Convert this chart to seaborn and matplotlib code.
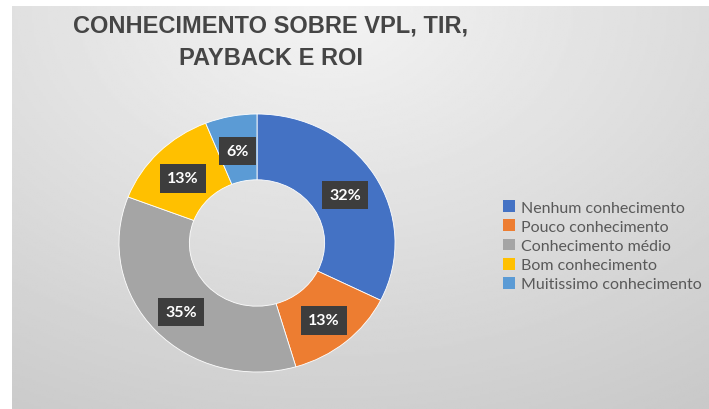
import numpy as np
import matplotlib
matplotlib.use('Agg')
import matplotlib.pyplot as plt
import matplotlib.patches as mpatches
import seaborn as sns


categories = ['Nenhum conhecimento', 'Pouco conhecimento', 'Conhecimento médio',
              'Bom conhecimento', 'Muitissimo conhecimento']
percentages = [32, 13, 35, 13, 6]
pct_labels = ['32%', '13%', '35%', '13%', '6%']
title = 'CONHECIMENTO SOBRE VPL, TIR,\nPAYBACK E ROI'

sns.set_theme(style='white')
plt.rcParams['font.family'] = ['Lato', 'DejaVu Sans']

colors = sns.color_palette(['#4472C4', '#ED7D31', '#A5A5A5', '#FFC000', '#5B9BD5'])

W, H = 709, 410
fig = plt.figure(figsize=(W / 100, H / 100), dpi=100)
fig.patch.set_facecolor('white')

# gradient background (lighter at top centre, darker towards bottom corners)
bg = fig.add_axes([12 / W, 0, 1 - 12 / W, (H - 7) / H])
yy, xx = np.mgrid[0:1:200j, 0:1:300j]
dist = np.sqrt(((xx - 0.45) * 1.2) ** 2 + (yy * 1.0) ** 2)
shade = 0.955 - 0.17 * np.clip(dist, 0, 1.2) / 1.2
bg.imshow(shade, cmap='gray', vmin=0, vmax=1, aspect='auto',
          extent=[0, 1, 0, 1], origin='upper')
bg.set_axis_off()

# donut
ax = fig.add_axes([119 / W, 1 - 373 / H, 276 / W, 258 / H])
ax.set_zorder(2)
wedges, _ = ax.pie(
    percentages,
    colors=colors,
    startangle=90,
    counterclock=False,
    radius=1,
    wedgeprops=dict(width=0.51, edgecolor='white', linewidth=0.6),
)
ax.set_aspect('auto')
ax.set_xlim(-1, 1)
ax.set_ylim(-1, 1)
ax.set_axis_off()

for w, lab in zip(wedges, pct_labels):
    mid = np.deg2rad((w.theta1 + w.theta2) / 2)
    r = 0.75
    ax.text(r * np.cos(mid), r * np.sin(mid) - 0.025, lab,
            ha='center', va='center', color='white',
            fontsize=11.5, fontweight='bold',
            bbox=dict(boxstyle='square,pad=0.45', facecolor='#3d3d3d', edgecolor='none'))

fig.text(271 / W, 1 - 42 / H, title, ha='center', va='center',
         fontsize=17, fontweight='bold', color='#454545',
         family='Liberation Sans', linespacing=1.55)

handles = [mpatches.Patch(facecolor=c, edgecolor='none') for c in colors]
leg = fig.legend(handles, categories, loc='upper left',
                 bbox_to_anchor=(492 / W, 1 - 190 / H),
                 frameon=False, fontsize=11.5, labelspacing=0.3,
                 handlelength=0.75, handleheight=0.75, handletextpad=0.35,
                 borderpad=0.2, labelcolor='#595959')

fig.savefig('out.png', dpi=100)
